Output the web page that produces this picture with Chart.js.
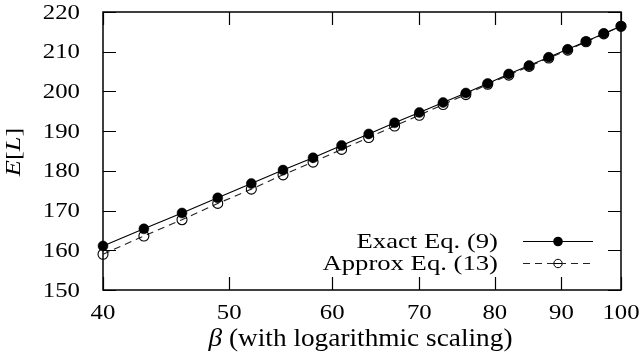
<!DOCTYPE html>
<html>
<head>
<meta charset="utf-8">
<script src="https://cdn.jsdelivr.net/npm/chart.js@4/dist/chart.umd.min.js"></script>
<style>
  html, body { margin: 0; padding: 0; background: #fff; }
  #wrap { width: 642px; height: 358px; position: relative; }
</style>
</head>
<body>
<div id="wrap"><canvas id="c" width="642" height="358"></canvas></div>
<script>
// ---- data ----
const beta = [40, 43, 46, 49, 52, 55, 58, 61, 64, 67, 70, 73, 76, 79, 82, 85, 88, 91, 94, 97, 100];
const exactVals = [161.1, 165.4, 169.4, 173.2, 176.8, 180.2, 183.3, 186.4, 189.3, 192.1, 194.7, 197.2, 199.6, 202.0, 204.4, 206.5, 208.6, 210.6, 212.6, 214.6, 216.4];
const approxVals = [159.0, 163.6, 167.7, 171.8, 175.4, 179.0, 182.2, 185.4, 188.4, 191.3, 194.0, 196.7, 199.2, 201.8, 204.1, 206.3, 208.4, 210.4, 212.5, 214.5, 216.4];
const xTicks = [40, 50, 60, 70, 80, 90, 100];
const yTicks = [150, 160, 170, 180, 190, 200, 210, 220];
const seriesNames = ["Exact Eq. (9)", "Approx Eq. (13)"];

const SERIF = '"Liberation Serif", "Times New Roman", serif';

function stretchText(ctx, txt, x, y, sx, align, font) {
  ctx.save();
  ctx.font = font;
  ctx.translate(x, y);
  ctx.scale(sx, 1);
  ctx.textAlign = align;
  ctx.fillText(txt, 0, 0);
  ctx.restore();
}

// draw sequence of [text, font] pieces, starting at left x (in stretched units)
function drawPieces(ctx, pieces, cx, y, sx) {
  ctx.save();
  let total = 0;
  pieces.forEach(p => { ctx.font = p[1]; total += ctx.measureText(p[0]).width; });
  ctx.translate(cx, y);
  ctx.scale(sx, 1);
  let x = -total / 2;
  ctx.textAlign = 'left';
  pieces.forEach(p => { ctx.font = p[1]; ctx.fillText(p[0], x, 0); x += ctx.measureText(p[0]).width; });
  ctx.restore();
}

const framePlugin = {
  id: 'frame',
  beforeDatasetsDraw(chart) {
    const ctx = chart.ctx, a = chart.chartArea;
    const xs = chart.scales.x, ys = chart.scales.y;
    const TL = 13;
    ctx.save();
    ctx.strokeStyle = '#000';
    ctx.lineWidth = 1.2;
    ctx.beginPath();
    xTicks.forEach(v => {
      const px = Math.round(xs.getPixelForValue(v)) + 0.5;
      ctx.moveTo(px, a.bottom); ctx.lineTo(px, a.bottom - TL);
      ctx.moveTo(px, a.top); ctx.lineTo(px, a.top + TL);
    });
    yTicks.forEach(v => {
      const py = Math.round(ys.getPixelForValue(v)) + 0.5;
      ctx.moveTo(a.left, py); ctx.lineTo(a.left + TL, py);
      ctx.moveTo(a.right, py); ctx.lineTo(a.right - TL, py);
    });
    ctx.stroke();
    ctx.lineWidth = 1.5;
    ctx.strokeRect(a.left, a.top, a.right - a.left, a.bottom - a.top);
    ctx.restore();
  },
  afterDraw(chart) {
    const ctx = chart.ctx, a = chart.chartArea;
    const xs = chart.scales.x, ys = chart.scales.y;
    ctx.save();
    ctx.fillStyle = '#000';
    ctx.textBaseline = 'middle';
    const tickFont = '21px ' + SERIF;
    xTicks.forEach(v => {
      stretchText(ctx, String(v), xs.getPixelForValue(v), 313, 1.18, 'center', tickFont);
    });
    yTicks.forEach(v => {
      stretchText(ctx, String(v), 80, ys.getPixelForValue(v) + 1, 1.18, 'right', tickFont);
    });
    // x title
    ctx.textBaseline = 'alphabetic';
    drawPieces(ctx, [["\u03B2", 'italic 26px ' + SERIF], [" (with logarithmic scaling)", '26px ' + SERIF]], 360.5, 346, 1.05);
    // y title rotated
    ctx.save();
    ctx.translate(20, 152);
    ctx.rotate(-Math.PI / 2);
    ctx.textBaseline = 'alphabetic';
    drawPieces(ctx, [["E", 'italic 22px ' + SERIF], ["[", '22px ' + SERIF], ["L", 'italic 22px ' + SERIF], ["]", '22px ' + SERIF]], 0, 0, 1.2);
    ctx.restore();

    // legend
    const legFont = '21px ' + SERIF;
    const rows = [241.5, 263.5];
    chart.data.datasets.forEach((ds, i) => {
      const cy = rows[i];
      ctx.textBaseline = 'middle';
      stretchText(ctx, ds.label, 498, cy + 1, 1.27, 'right', legFont);
      ctx.save();
      ctx.strokeStyle = ds.borderColor;
      ctx.lineWidth = ds.borderWidth;
      ctx.setLineDash(ds.borderDash || []);
      ctx.beginPath();
      ctx.moveTo(523, cy); ctx.lineTo(593, cy);
      ctx.stroke();
      ctx.setLineDash([]);
      ctx.beginPath();
      ctx.arc(558, cy, i === 0 ? 4.8 : 4.2, 0, Math.PI * 2);
      if (i === 0) { ctx.fillStyle = '#000'; ctx.fill(); }
      else { ctx.fillStyle = '#fff'; ctx.fill(); ctx.lineWidth = 1; ctx.strokeStyle = '#000'; ctx.stroke();
        ctx.beginPath(); ctx.moveTo(554, cy); ctx.lineTo(562, cy); ctx.stroke(); }
      ctx.restore();
    });
    ctx.restore();
  }
};

new Chart(document.getElementById('c'), {
  type: 'line',
  data: {
    datasets: [
      {
        label: seriesNames[0],
        data: beta.map((b, i) => ({ x: b, y: exactVals[i] })),
        borderColor: '#000',
        borderWidth: 1.1,
        pointRadius: 5,
        pointBackgroundColor: '#000',
        pointBorderColor: '#000',
        pointBorderWidth: 0.5,
        tension: 0,
        clip: false
      },
      {
        label: seriesNames[1],
        data: beta.map((b, i) => ({ x: b, y: approxVals[i] })),
        borderColor: '#222',
        borderWidth: 1.1,
        borderDash: [7, 5],
        pointRadius: 5,
        pointBackgroundColor: 'rgba(0,0,0,0)',
        pointBorderColor: '#000',
        pointBorderWidth: 1.1,
        tension: 0,
        clip: false
      }
    ]
  },
  options: {
    responsive: false,
    animation: false,
    devicePixelRatio: 1,
    layout: { padding: { top: 12, right: 21, left: 0, bottom: 0 } },
    plugins: { legend: { display: false }, tooltip: { enabled: false } },
    scales: {
      x: {
        type: 'logarithmic',
        min: 40, max: 100,
        afterBuildTicks: s => { s.ticks = xTicks.map(v => ({ value: v })); },
        afterFit: s => { s.height = 68; },
        ticks: { display: false },
        grid: { display: false },
        border: { display: false }
      },
      y: {
        type: 'linear',
        min: 150, max: 220,
        afterBuildTicks: s => { s.ticks = yTicks.map(v => ({ value: v })); },
        afterFit: s => { s.width = 103; },
        ticks: { display: false },
        grid: { display: false },
        border: { display: false }
      }
    }
  },
  plugins: [framePlugin]
});
</script>
</body>
</html>
